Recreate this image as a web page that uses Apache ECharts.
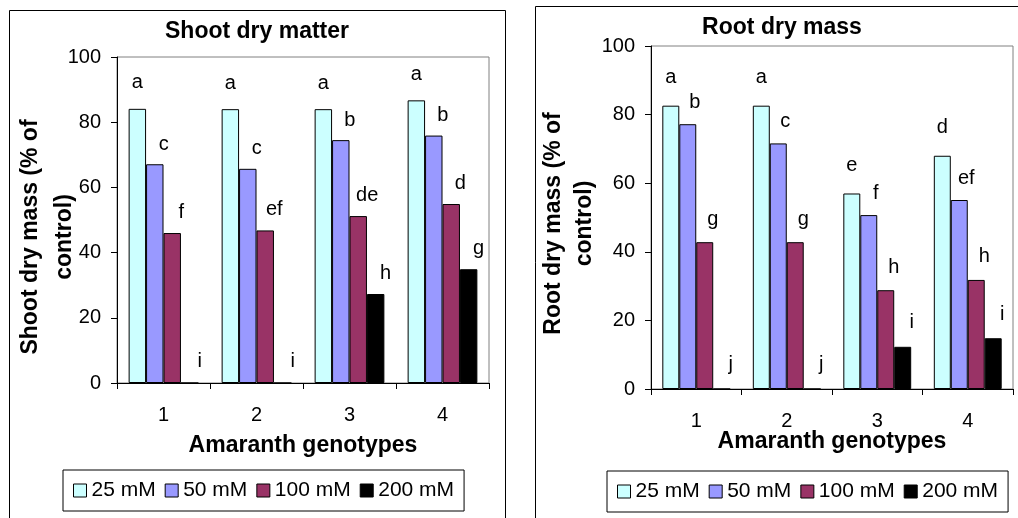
<!DOCTYPE html>
<html>
<head>
<meta charset="utf-8">
<title>Shoot and root dry mass</title>
<script src="https://cdn.jsdelivr.net/npm/echarts@6/dist/echarts.min.js"></script>
<style>
html, body { margin: 0; padding: 0; background: #fff; }
#chart { width: 1018px; height: 518px; }
</style>
</head>
<body>
<div id="chart"></div>
<script>
var genotypes = ['1', '2', '3', '4']
var levels = ['25 mM', '50 mM', '100 mM', '200 mM']
var yTicks = [0, 20, 40, 60, 80, 100]

// shoot dry mass, % of control
var shoot25 = [84.1, 84.0, 84.0, 86.7]
var shoot50 = [67.1, 65.7, 74.5, 75.9]
var shoot100 = [46.0, 46.8, 51.2, 54.9]
var shoot200 = [0, 0, 27.3, 34.9]
var shootLetters25 = ['a', 'a', 'a', 'a']
var shootLetters50 = ['c', 'c', 'b', 'b']
var shootLetters100 = ['f', 'ef', 'de', 'd']
var shootLetters200 = ['i', 'i', 'h', 'g']

// root dry mass, % of control
var root25 = [82.6, 82.6, 57.0, 68.0]
var root50 = [77.2, 71.6, 50.7, 55.1]
var root100 = [42.8, 42.8, 28.8, 31.8]
var root200 = [0, 0, 12.3, 14.8]
var rootLetters25 = ['a', 'a', 'e', 'd']
var rootLetters50 = ['b', 'c', 'f', 'ef']
var rootLetters100 = ['g', 'g', 'h', 'h']
var rootLetters200 = ['j', 'j', 'i', 'i']

var colors = ['#CCFFFF', '#9999FF', '#993366', '#000000']
var font = 'Liberation Sans, Arial, sans-serif'

function barSeries (idx, data, letters, axis, offset) {
  return {
    name: levels[idx],
    type: 'bar',
    xAxisIndex: axis,
    yAxisIndex: axis,
    data: data,
    barGap: 0,
    barCategoryGap: '25%',
    itemStyle: { color: colors[idx], borderColor: '#000', borderWidth: 1 },
    label: {
      show: true,
      position: 'top',
      offset: offset,
      color: '#000',
      fontSize: 20,
      fontFamily: font,
      formatter: function (p) { return letters[p.dataIndex] }
    },
    emphasis: { disabled: true }
  }
}

function xAxisFor (grid, nameGap) {
  return {
    type: 'category',
    gridIndex: grid,
    data: genotypes,
    name: 'Amaranth genotypes',
    nameLocation: 'middle',
    nameGap: nameGap,
    nameMoveOverlap: false,
    nameTextStyle: { fontSize: 23, fontWeight: 'bold', color: '#000', fontFamily: font },
    axisLine: { lineStyle: { color: '#000', width: 1 } },
    axisTick: { show: true, length: 6, lineStyle: { color: '#000' } },
    axisLabel: { fontSize: 20, color: '#000', margin: 22, fontFamily: font },
    splitLine: { show: false }
  }
}

function yAxisFor (grid, name, nameGap, lineHeight, pad) {
  return {
    type: 'value',
    gridIndex: grid,
    min: yTicks[0],
    max: yTicks[yTicks.length - 1],
    interval: 20,
    name: name,
    nameLocation: 'middle',
    nameGap: nameGap,
    nameMoveOverlap: false,
    nameTextStyle: {
      fontSize: 23, fontWeight: 'bold', color: '#000', fontFamily: font,
      lineHeight: lineHeight, padding: pad
    },
    axisLine: { show: true, lineStyle: { color: '#000', width: 1 } },
    axisTick: { show: true, length: 6, lineStyle: { color: '#000' } },
    axisLabel: { fontSize: 20, color: '#000', margin: 16, fontFamily: font },
    splitLine: { show: false }
  }
}

function legendFor (left, top) {
  return {
    left: left,
    top: top,
    data: levels,
    orient: 'horizontal',
    icon: 'rect',
    itemWidth: 13,
    itemHeight: 13,
    itemGap: 9,
    padding: [10, 10],
    borderColor: '#000',
    borderWidth: 1,
    selectedMode: false,
    itemStyle: { borderColor: '#000', borderWidth: 1 },
    textStyle: { fontSize: 21, color: '#000', fontFamily: font }
  }
}

var myChart = echarts.init(document.getElementById('chart'))
myChart.setOption({
  backgroundColor: '#fff',
  animation: false,
  title: [
    {
      text: 'Shoot dry matter',
      left: 257,
      top: 20,
      padding: 0,
      textAlign: 'center',
      textStyle: { fontSize: 23, fontWeight: 'bold', color: '#000', fontFamily: font }
    },
    {
      text: 'Root dry mass',
      left: 782,
      top: 16,
      padding: 0,
      textAlign: 'center',
      textStyle: { fontSize: 23, fontWeight: 'bold', color: '#000', fontFamily: font }
    }
  ],
  legend: [legendFor(63, 470), legendFor(607, 471)],
  grid: [
    { left: 117, top: 57, right: 529, bottom: 135, show: true, borderColor: '#808080', borderWidth: 1 },
    { left: 651, top: 46, right: 5, bottom: 129, show: true, borderColor: '#808080', borderWidth: 1 }
  ],
  xAxis: [xAxisFor(0, 51), xAxisFor(1, 41)],
  yAxis: [
    yAxisFor(0, 'Shoot dry mass (% of\ncontrol)', 35, 34, [0, 34, 0, 0]),
    yAxisFor(1, 'Root dry mass (% of\ncontrol)', 51, 31, [0, 12, 0, 0])
  ],
  graphic: [
    { type: 'rect', z: -1, silent: true, shape: { x: 9.5, y: 10.5, width: 496, height: 600 }, style: { fill: 'none', stroke: '#000', lineWidth: 1 } },
    { type: 'rect', z: -1, silent: true, shape: { x: 535.5, y: 6.5, width: 600, height: 600 }, style: { fill: 'none', stroke: '#000', lineWidth: 1 } }
  ],
  series: [
    barSeries(0, shoot25, shootLetters25, 0, [0, -11]),
    barSeries(1, shoot50, shootLetters50, 0, [9, -5]),
    barSeries(2, shoot100, shootLetters100, 0, [9, -6]),
    barSeries(3, shoot200, shootLetters200, 0, [10, -6]),
    barSeries(0, root25, rootLetters25, 1, [0, -13]),
    barSeries(1, root50, rootLetters50, 1, [7, -7]),
    barSeries(2, root100, rootLetters100, 1, [8, -8]),
    barSeries(3, root200, rootLetters200, 1, [9, -9])
  ]
})
</script>
</body>
</html>
